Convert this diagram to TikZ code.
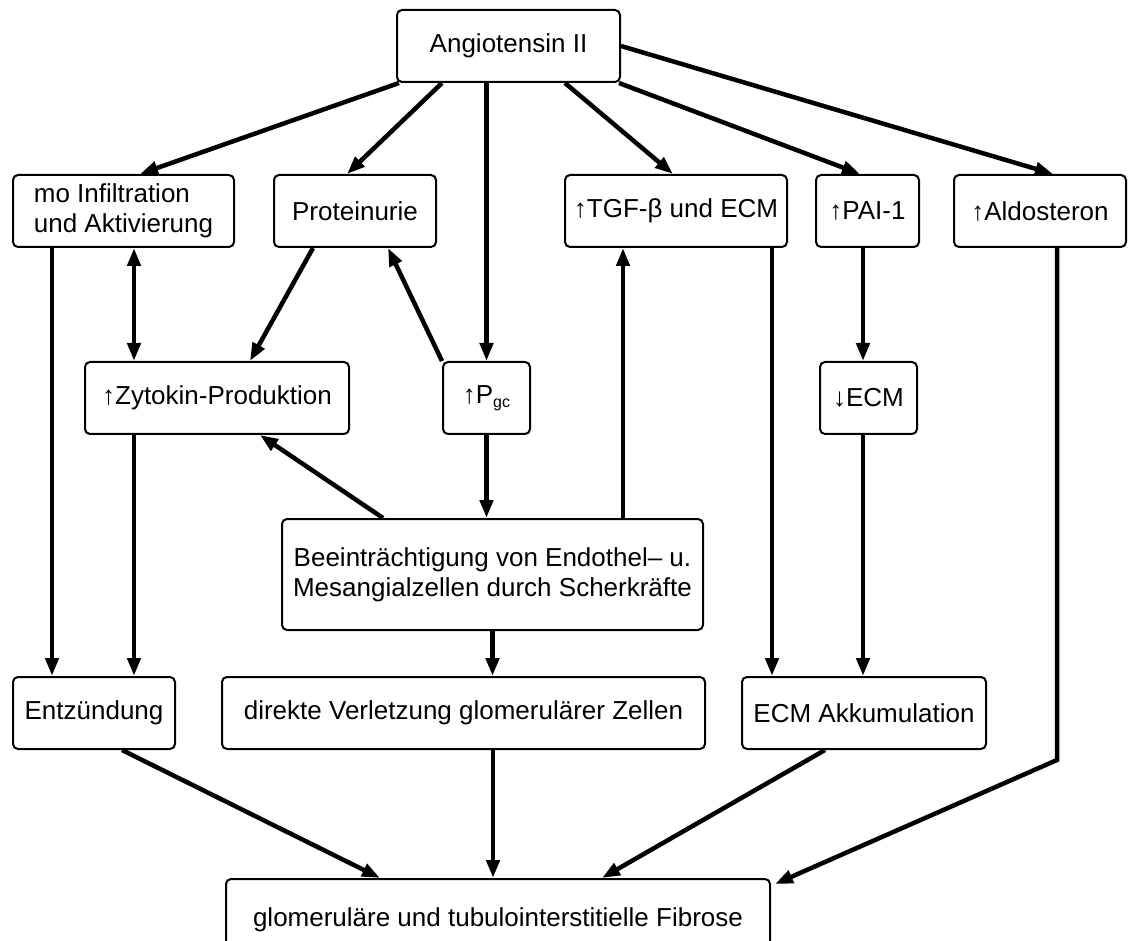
\documentclass[tikz,border=0pt]{standalone}
\usepackage{fontspec}
\setmainfont{Liberation Sans}
\usetikzlibrary{arrows.meta,calc}
\begin{document}
\begin{tikzpicture}[x=1pt,y=-1pt,
  box/.style={draw, line width=2pt, rounded corners=5pt, inner sep=2pt,
    font=\fontsize{26}{30}\selectfont, align=center, minimum height=72pt},
  arr/.style={line width=4.5pt, -{Triangle[length=18pt,width=13pt]}},
  darr/.style={line width=4.5pt, {Triangle[length=18pt,width=13pt]}-{Triangle[length=18pt,width=13pt]}}]
\useasboundingbox (0,0) rectangle (1128,941);
\clip (0,0) rectangle (1128,941);
% nodes
\node[box, minimum width=223pt] (angio) at (508.5,46) {Angiotensin II};
\node[box, minimum width=221pt, align=left] (mo) at (123.5,211) {mo Infiltration\\und Aktivierung};
\node[box, minimum width=162pt] (prot) at (355,211) {Proteinurie};
\node[box, minimum width=222pt] (tgf) at (676,211) {↑TGF-β und ECM};
\node[box, minimum width=103pt] (pai) at (867.5,211) {↑PAI-1};
\node[box, minimum width=172pt] (aldo) at (1040,211) {↑Aldosteron};
\node[box, minimum width=264pt] (zyt) at (217,398) {↑Zytokin-Produktion};
\node[box, minimum width=87pt] (pgc) at (486.5,398) {↑P\raisebox{-4pt}{\fontsize{16}{16}\selectfont gc}};
\node[box, minimum width=97pt] (decm) at (868.5,398) {↓ECM};
\node[box, minimum width=421pt, minimum height=111pt] (beein) at (492.5,574.5) {Beeinträchtigung von Endothel– u.\\Mesangialzellen durch Scherkräfte};
\node[box, minimum width=162pt] (entz) at (94,713) {Entzündung};
\node[box, minimum width=483pt] (dir) at (463.5,713) {direkte Verletzung glomerulärer Zellen};
\node[box, minimum width=244pt] (ecma) at (864,713) {ECM Akkumulation};
\node[box, minimum width=544pt, minimum height=82pt] (fib) at (498,920) {glomeruläre und tubulointerstitielle Fibrose};
% helper coordinates
\coordinate (c1) at ([xshift=40pt]mo.south west);
\coordinate (c2) at ([xshift=122pt]mo.south west);
\coordinate (c3) at ([xshift=130.5pt]beein.north);
\coordinate (c4) at ([xshift=96pt]tgf.south);
\coordinate (c5) at ([xshift=-4.5pt]pai.south);
\coordinate (c6) at ([xshift=-5pt]fib.north);
\coordinate (bend) at (1057,760);
% connectors from Angiotensin II
\draw[arr] ([xshift=3pt]angio.south west) -- ([xshift=16.5pt]mo.north);
\draw[arr] ([xshift=-66.5pt]angio.south) -- ([xshift=-8pt]prot.north);
\draw[arr] (angio.south -| pgc.north) -- (pgc.north);
\draw[arr] ([xshift=56.5pt]angio.south) -- ([xshift=-3pt]tgf.north);
\draw[arr] ([xshift=-2pt]angio.south east) -- ([xshift=-7.5pt]pai.north);
\draw[arr] (angio.east) -- ([xshift=13pt]aldo.north);
% middle
\draw[arr] (c1) -- (c1 |- entz.north);
\draw[darr] (c2) -- (c2 |- zyt.north);
\draw[arr] ([xshift=-42pt]prot.south) -- ([xshift=33pt]zyt.north);
\draw[arr] (pgc.north west) -- ([xshift=33pt]prot.south);
\draw[arr] (zyt.south -| c2) -- (c2 |- entz.north);
\draw[arr] (pgc.south) -- (pgc.south |- beein.north);
\draw[arr] ([xshift=-109.5pt]beein.north) -- ([xshift=43pt]zyt.south);
\draw[arr] (c3) -- (c3 |- tgf.south);
\draw[arr] (c4) -- (c4 |- ecma.north);
\draw[arr] (c5) -- (c5 |- decm.north);
\draw[arr] (decm.south -| c5) -- (c5 |- ecma.north);
\draw[arr] (beein.south) -- (beein.south |- dir.north);
% to Fibrose
\draw[arr] ([xshift=28pt]entz.south) -- ([xshift=-118pt]fib.north);
\draw[arr] (c6 |- dir.south) -- (c6);
\draw[arr] ([xshift=-39pt]ecma.south) -- ([xshift=104pt]fib.north);
\draw[arr] (aldo.south -| bend) -- (bend) -- ([shift={(4,6)}]fib.north east);
\end{tikzpicture}
\end{document}
